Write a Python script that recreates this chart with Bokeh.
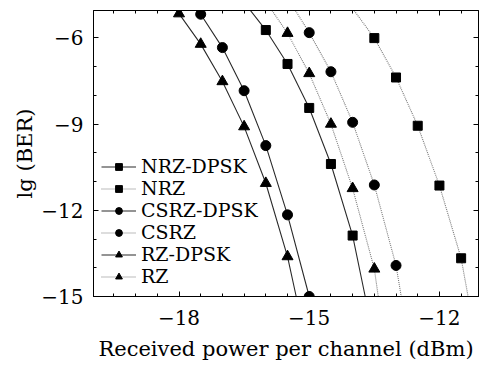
import numpy as np
from bokeh.plotting import figure
from bokeh.models import FixedTicker, LinearAxis, Legend, LegendItem, Range1d, Title
from bokeh.embed import file_html
from bokeh.resources import INLINE

# ---- data ----
series_names = ["NRZ-DPSK", "NRZ", "CSRZ-DPSK", "CSRZ", "RZ-DPSK", "RZ"]

# measured points (markers)
nrz_dpsk_x = [-16.0, -15.5, -15.0, -14.5, -14.0]
nrz_dpsk_y = [-5.73, -6.91, -8.44, -10.39, -12.88]
nrz_x = [-13.5, -13.0, -12.5, -12.0, -11.5]
nrz_y = [-6.01, -7.38, -9.06, -11.14, -13.67]
csrz_dpsk_x = [-17.5, -17.0, -16.5, -16.0, -15.5, -15.0]
csrz_dpsk_y = [-5.18, -6.34, -7.84, -9.75, -12.16, -15.0]
csrz_x = [-15.0, -14.5, -14.0, -13.5, -13.0]
csrz_y = [-5.82, -7.18, -8.94, -11.12, -13.92]
rz_dpsk_x = [-18.0, -17.5, -17.0, -16.5, -16.0, -15.5]
rz_dpsk_y = [-5.16, -6.22, -7.52, -9.09, -11.06, -13.61]
rz_x = [-15.5, -15.0, -14.5, -14.0, -13.5]
rz_y = [-5.84, -7.24, -9.0, -11.24, -14.04]

# fitted curves
nrz_dpsk_fit_x = [-16.38, -16.0, -15.5, -15.0, -14.5, -14.0, -13.71]
nrz_dpsk_fit_y = [-5.0, -5.73, -6.91, -8.44, -10.39, -12.88, -15.0]
nrz_fit_x = [-13.99, -13.5, -13.0, -12.5, -12.0, -11.5, -11.34]
nrz_fit_y = [-5.0, -6.01, -7.38, -9.06, -11.14, -13.67, -15.0]
csrz_dpsk_fit_x = [-17.56, -17.5, -17.0, -16.5, -16.0, -15.5, -15.0]
csrz_dpsk_fit_y = [-5.0, -5.18, -6.34, -7.84, -9.75, -12.16, -15.0]
csrz_fit_x = [-15.34, -15.0, -14.5, -14.0, -13.5, -13.0, -12.88]
csrz_fit_y = [-5.0, -5.82, -7.18, -8.94, -11.12, -13.92, -15.0]
rz_dpsk_fit_x = [-18.06, -18.0, -17.5, -17.0, -16.5, -16.0, -15.5, -15.3]
rz_dpsk_fit_y = [-5.0, -5.16, -6.22, -7.52, -9.09, -11.06, -13.61, -15.0]
rz_fit_x = [-15.88, -15.5, -15.0, -14.5, -14.0, -13.5, -13.41]
rz_fit_y = [-5.0, -5.84, -7.24, -9.0, -11.24, -14.04, -15.0]

x_major = [-18, -15, -12]
y_major = [-6, -9, -12, -15]

FONT = "DejaVu Serif"

p = figure(width=480, height=368, output_backend="svg", toolbar_location=None,
           x_range=Range1d(-19.97, -11.1), y_range=Range1d(-15, -5.05),
           min_border_left=93, min_border_right=2, min_border_top=10,
           min_border_bottom=72, background_fill_color="white",
           border_fill_color="white")
p.xgrid.visible = False
p.ygrid.visible = False
p.outline_line_color = "black"
p.outline_line_width = 1
p.outline_line_alpha = 1

x_minor = list(np.arange(-20.0, -10.9, 0.5))
y_minor = list(np.arange(-15.0, -4.9, 1.0))

def style_axis(ax, ticks, minor, labels=True):
    ax.ticker = FixedTicker(ticks=ticks, minor_ticks=minor)
    ax.major_tick_in = 5
    ax.major_tick_out = 0
    ax.minor_tick_in = 3
    ax.minor_tick_out = 0
    ax.axis_line_color = "black"
    ax.major_tick_line_color = "black"
    ax.minor_tick_line_color = "black"
    if labels:
        ax.major_label_overrides = {t: "\u2212" + str(abs(t)) for t in ticks}
        ax.major_label_text_font = FONT
        ax.major_label_text_font_size = "20px"
        ax.major_label_text_color = "black"
        ax.axis_label_text_font = FONT
        ax.axis_label_text_font_size = "21px"
        ax.axis_label_text_font_style = "normal"
        ax.axis_label_text_color = "black"
    else:
        ax.major_label_overrides = {t: "" for t in ticks}
        ax.major_label_standoff = 0

style_axis(p.xaxis[0], x_major, x_minor)
style_axis(p.yaxis[0], y_major, y_minor)
p.xaxis[0].axis_label = "Received power per channel (dBm)"
p.xaxis[0].major_label_standoff = 13
p.xaxis[0].axis_label_standoff = 9
p.yaxis[0].major_label_standoff = 10

ytitle = Title(text="lg (BER)", align="center", offset=-30,
               text_font=FONT, text_font_size="21px", text_font_style="normal",
               text_color="black", standoff=4)
p.add_layout(ytitle, "left")

top_ax = LinearAxis()
style_axis(top_ax, x_major, x_minor, labels=False)
p.add_layout(top_ax, "above")
right_ax = LinearAxis()
style_axis(right_ax, y_major, y_minor, labels=False)
p.add_layout(right_ax, "right")

SOLID = "#2a2a2a"
DOT = "#7a7a7a"

specs = [
    ("NRZ-DPSK", nrz_dpsk_fit_x, nrz_dpsk_fit_y, nrz_dpsk_x, nrz_dpsk_y, "square", True),
    ("NRZ", nrz_fit_x, nrz_fit_y, nrz_x, nrz_y, "square", False),
    ("CSRZ-DPSK", csrz_dpsk_fit_x, csrz_dpsk_fit_y, csrz_dpsk_x, csrz_dpsk_y, "circle", True),
    ("CSRZ", csrz_fit_x, csrz_fit_y, csrz_x, csrz_y, "circle", False),
    ("RZ-DPSK", rz_dpsk_fit_x, rz_dpsk_fit_y, rz_dpsk_x, rz_dpsk_y, "triangle", True),
    ("RZ", rz_fit_x, rz_fit_y, rz_x, rz_y, "triangle", False),
]

items = []
for name, fx, fy, mx, my, marker, solid in specs:
    if solid:
        lr = p.line(fx, fy, line_color=SOLID, line_width=1.1)
    else:
        lr = p.line(fx, fy, line_color=DOT, line_width=1.1, line_dash="1 1")
    size = {"square": 9, "circle": 10, "triangle": 11}[marker]
    sr = p.scatter(mx, my, marker=marker, size=size, fill_color="black",
                   line_color="black")
    items.append(LegendItem(label=name, renderers=[lr, sr]))

legend = Legend(items=items, location=(8, 9), background_fill_alpha=0,
                border_line_color=None, label_text_font=FONT,
                label_text_font_size="19px", label_text_color="black",
                glyph_width=35, glyph_height=17, label_height=17,
                label_standoff=5, spacing=-4, padding=2, margin=0)
p.add_layout(legend, "center")

open("out.html", "w").write(file_html(p, INLINE))
